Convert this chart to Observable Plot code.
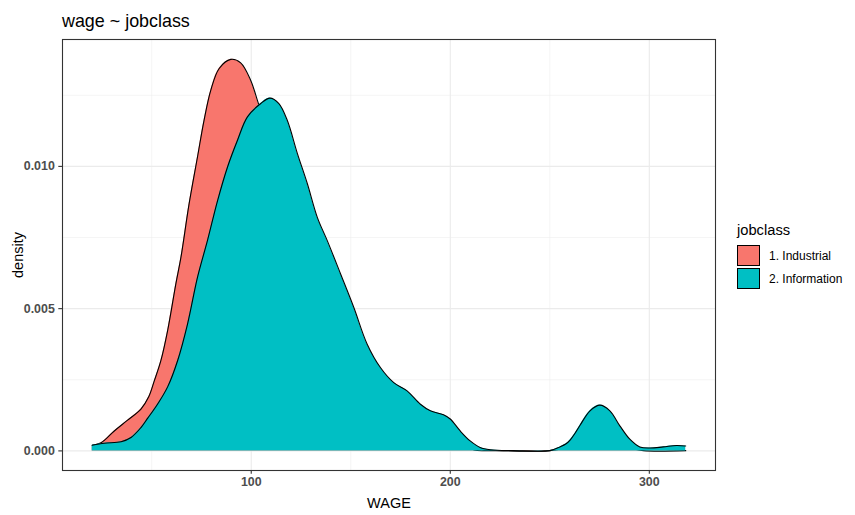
<!DOCTYPE html>
<html>
<head>
<meta charset="utf-8">
<script src="https://cdn.jsdelivr.net/npm/d3@7"></script>
<script src="https://cdn.jsdelivr.net/npm/@observablehq/plot@0.6"></script>
<style>
  body { margin: 0; background: #fff; font-family: "Liberation Sans", Arial, sans-serif; }
  #wrap { position: relative; width: 855px; height: 515px; }
  #title { position: absolute; left: 62px; top: 11px; font-size: 17.9px; color: #000; white-space: nowrap; }
  #legend { position: absolute; left: 737px; top: 222px; color: #000; }
  #legend .lt { font-size: 14.7px; margin-bottom: 6px; }
  #legend .row { display: flex; align-items: center; height: 23px; }
  #legend .key { width: 21px; height: 19px; border: 1px solid #000; box-sizing: content-box; margin-right: 9px; }
  #legend .lab { font-size: 12px; }
</style>
</head>
<body>
<div id="wrap">
  <div id="title">wage ~ jobclass</div>
  <div id="chart"></div>
  <div id="legend"></div>
</div>
<script>
const seriesNames = ["1. Industrial", "2. Information"];
const seriesColors = ["#F8766D", "#00BFC4"];

const industrialWage = [20.1, 24.6, 31.2, 37.9, 44.6, 48.5, 51.3, 54.6, 58.0, 62.2, 64.7, 68.8, 73.0, 76.3, 79.7, 83.9, 89.7, 94.7, 99.7, 103.1, 105, 110, 115, 120, 130, 140, 150, 160, 170, 180, 190, 200, 207, 212, 220, 250, 258, 265, 272, 277, 283, 290, 297, 318.3];
const industrialDensity = [0.00020, 0.00029, 0.00070, 0.00108, 0.00147, 0.00190, 0.00246, 0.00317, 0.00423, 0.00590, 0.00681, 0.00869, 0.01033, 0.01162, 0.01268, 0.01344, 0.01376, 0.01364, 0.01303, 0.01232, 0.0119, 0.0108, 0.0096, 0.0085, 0.0065, 0.0050, 0.0037, 0.0027, 0.0019, 0.0013, 0.0008, 0.0005, 0.0002, 0.00003, 0.00001, 0.00001, 0.0001, 0.0003, 0.0005, 0.0005, 0.0003, 0.0001, 0.00001, 0.00001];

const informationWage = [20.1, 26.2, 34.6, 39.6, 44.6, 48.0, 53.0, 58.0, 63.0, 68.0, 73.0, 78.0, 83.1, 88.1, 93.1, 98.1, 104.8, 109.4, 113.9, 118.1, 123.2, 128.2, 133.2, 138.2, 144.9, 151.5, 158.2, 164.9, 171.6, 178.3, 185.0, 190.0, 196.6, 200.0, 205.0, 210.0, 215.0, 220.1, 231.7, 250.1, 255.1, 258.0, 260.2, 262.7, 265.2, 270.2, 275.2, 280.2, 285.2, 290.2, 295.2, 300.2, 307.0, 313.7, 318.3];
const informationDensity = [0.00020, 0.00027, 0.00032, 0.00047, 0.00082, 0.00115, 0.00165, 0.00225, 0.00317, 0.00446, 0.00610, 0.00739, 0.00880, 0.00998, 0.01092, 0.01174, 0.01221, 0.01240, 0.01221, 0.01162, 0.01045, 0.00939, 0.00821, 0.00739, 0.00622, 0.00505, 0.00376, 0.00293, 0.00240, 0.00211, 0.00164, 0.00141, 0.00127, 0.00112, 0.00070, 0.00035, 0.00012, 0.00004, 0.00001, 0.00001, 0.00014, 0.00024, 0.00038, 0.00062, 0.00090, 0.00141, 0.00161, 0.00141, 0.00088, 0.00041, 0.00014, 0.00010, 0.00014, 0.00019, 0.00017];

const xMajor = [100, 200, 300];
const xMinor = [50, 150, 250];
const yMajor = [0, 0.005, 0.010];
const yMinor = [0.0025, 0.0075, 0.0125];

const industrial = industrialWage.map((w, i) => ({wage: w, density: industrialDensity[i], jobclass: seriesNames[0]}));
const information = informationWage.map((w, i) => ({wage: w, density: informationDensity[i], jobclass: seriesNames[1]}));

const curve = "catmull-rom";
const font = "Liberation Sans, Arial, sans-serif";

const chart = Plot.plot({
  width: 855,
  height: 515,
  marginLeft: 62,
  marginRight: 140,
  marginTop: 39,
  marginBottom: 45,
  style: {fontFamily: font, background: "white"},
  x: {domain: [5.18, 333.25]},
  y: {domain: [-0.000689, 0.01446]},
  color: {domain: seriesNames, range: seriesColors},
  marks: [
    Plot.gridX(xMinor, {stroke: "#EBEBEB", strokeOpacity: 1, strokeWidth: 0.55}),
    Plot.gridY(yMinor, {stroke: "#EBEBEB", strokeOpacity: 1, strokeWidth: 0.55}),
    Plot.gridX(xMajor, {stroke: "#EBEBEB", strokeOpacity: 1, strokeWidth: 1.1}),
    Plot.gridY(yMajor, {stroke: "#EBEBEB", strokeOpacity: 1, strokeWidth: 1.1}),
    Plot.areaY(industrial, {x: "wage", y: "density", fill: "jobclass", curve}),
    Plot.lineY(industrial, {x: "wage", y: "density", stroke: "black", strokeWidth: 1.1, curve}),
    Plot.areaY(information, {x: "wage", y: "density", fill: "jobclass", curve}),
    Plot.lineY(information, {x: "wage", y: "density", stroke: "black", strokeWidth: 1.1, curve}),
    Plot.frame({stroke: "#333333", strokeWidth: 1.1}),
    Plot.axisX(xMajor, {tickSize: 3.7, tickPadding: 3, fontSize: 12.4, fontWeight: "bold", fill: "#4D4D4D", stroke: "#333333", strokeWidth: 1.1, label: null}),
    Plot.axisY(yMajor, {tickSize: 3.7, tickPadding: 4, fontSize: 12.4, fontWeight: "bold", fill: "#4D4D4D", stroke: "#333333", strokeWidth: 1.1, tickFormat: d3.format(".3f"), label: null}),
    Plot.text(["WAGE"], {frameAnchor: "bottom", dy: 37, fontSize: 14.5, fill: "black", textAnchor: "middle"}),
    Plot.text(["density"], {frameAnchor: "left", dx: -44.5, rotate: -90, fontSize: 14.5, fill: "black", textAnchor: "middle"})
  ]
});
document.getElementById("chart").appendChild(chart);

const legend = document.getElementById("legend");
legend.innerHTML = '<div class="lt">jobclass</div>' + seriesNames.map((n, i) =>
  `<div class="row"><div class="key" style="background:${seriesColors[i]}"></div><div class="lab">${n}</div></div>`).join("");
</script>
</body>
</html>
